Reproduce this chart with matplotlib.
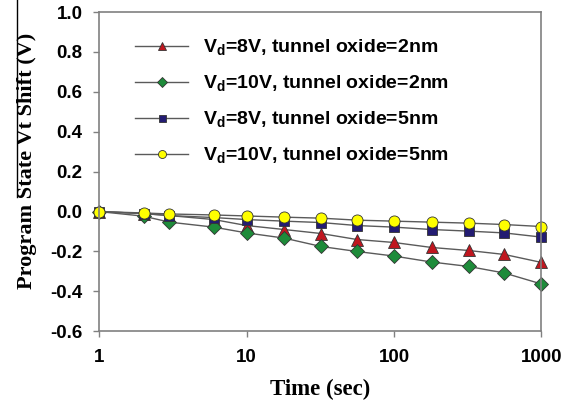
import numpy as np
import matplotlib.pyplot as plt
from matplotlib.lines import Line2D

# program time (s) and Vt shift (V) per condition
time_s = [1, 2, 3, 6, 10, 18, 32, 56, 100, 180, 320, 560, 1000]
vd8_tox2 = [0, -0.01, -0.02, -0.04, -0.07, -0.09, -0.11, -0.14, -0.155, -0.18, -0.195, -0.215, -0.255]
vd10_tox2 = [0, -0.023, -0.053, -0.078, -0.107, -0.133, -0.175, -0.2, -0.223, -0.253, -0.275, -0.308, -0.363]
vd8_tox5 = [0, -0.01, -0.02, -0.03, -0.04, -0.048, -0.055, -0.07, -0.078, -0.09, -0.098, -0.107, -0.128]
vd10_tox5 = [0, -0.007, -0.012, -0.017, -0.022, -0.028, -0.033, -0.043, -0.048, -0.053, -0.058, -0.065, -0.075]

labels = [r"V$_\mathbf{d}$=8V, tunnel oxide=2nm",
          r"V$_\mathbf{d}$=10V, tunnel oxide=2nm",
          r"V$_\mathbf{d}$=8V, tunnel oxide=5nm",
          r"V$_\mathbf{d}$=10V, tunnel oxide=5nm"]

plt.rcParams["mathtext.fontset"] = "custom"
plt.rcParams["mathtext.rm"] = "Liberation Sans:bold"
plt.rcParams["mathtext.bf"] = "Liberation Sans:bold"

fig = plt.figure(figsize=(5.73, 4.03), dpi=100)
ax = fig.add_axes([0.173, 0.178, 0.772, 0.792])

series = [
    (vd8_tox2, "^", "#C0161F", 8),
    (vd10_tox2, "D", "#1E8B3A", 7.5),
    (vd8_tox5, "s", "#231C72", 7),
    (vd10_tox5, "o", "#FFFF00", 8),
]
for (vals, mk, col, ms), lab in zip(series, labels):
    ax.plot(time_s, vals, color="#5a5a5a", lw=1.0, marker=mk, ms=ms,
            mfc=col, mec="#333333", mew=0.6, label=lab, clip_on=False)

ax.set_xscale("log")
ax.set_xlim(1, 1000)
ax.set_ylim(-0.6, 1.0)
ax.set_xticks([1, 10, 100, 1000])
ax.set_xticklabels(["1", "10", "100", "1000"])
ax.xaxis.set_minor_locator(plt.NullLocator())
ax.set_yticks(np.arange(-0.6, 1.01, 0.2))
ax.set_yticklabels([f"{v:.1f}" for v in np.arange(-0.6, 1.01, 0.2)])

for s in ax.spines.values():
    s.set_color("#808080")
    s.set_linewidth(1.2)
ax.tick_params(axis="both", colors="#808080", direction="out", length=4,
               width=1.0, labelcolor="black", labelsize=13.5)
ax.tick_params(axis="x", pad=9)
ax.tick_params(axis="y", pad=8)
for t in ax.get_xticklabels() + ax.get_yticklabels():
    t.set_fontweight("bold")
    t.set_fontfamily("Liberation Sans")

ax.set_xlabel("Time (sec)", fontfamily="Liberation Serif", fontweight="bold",
              fontsize=16.5)
ax.xaxis.set_label_coords(0.5, -0.15)
ax.set_ylabel("Program State Vt Shift (V)", fontfamily="Liberation Serif",
              fontweight="bold", fontsize=16)
ax.yaxis.set_label_coords(-0.14, 0.533)

leg = ax.legend(loc="upper left", bbox_to_anchor=(0.063, 0.945), borderaxespad=0,
                frameon=False, markerscale=0.72, handlelength=2.75,
                handletextpad=0.75, labelspacing=0.81,
                prop={"family": "Liberation Sans", "weight": "bold", "size": 14})

# thin rule running along the top of the y label
fig.add_artist(Line2D([16.5 / 573, 16.5 / 573], [1.0, 1 - 197 / 403],
                      transform=fig.transFigure, color="black", lw=1.0))

fig.savefig("out.png", dpi=100)
